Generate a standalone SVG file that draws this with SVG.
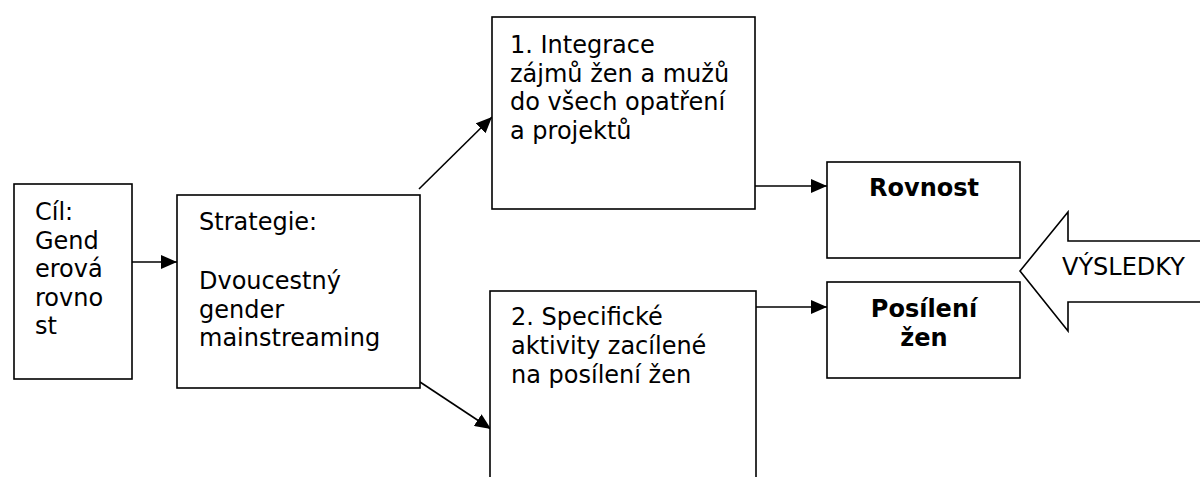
<svg xmlns="http://www.w3.org/2000/svg" width="1200" height="477" viewBox="0 0 1200 477">
<style>
.box{fill:#fff;stroke:#000;stroke-width:1.6}
.t{font-family:"DejaVu Sans",Verdana,sans-serif;font-size:24px;fill:#000}
.b{font-weight:bold;text-anchor:middle}
.c{stroke:#000;stroke-width:1.6;fill:none;marker-end:url(#ah)}
</style>
<defs>
<marker id="ah" markerWidth="16" markerHeight="14" refX="16" refY="7" orient="auto" markerUnits="userSpaceOnUse">
<path d="M0,0 L16,7 L0,14 Z" fill="#000"/>
</marker>
</defs>
<g id="connectors">
<line class="c" x1="132" y1="262" x2="177" y2="262"/>
<line class="c" x1="419" y1="189" x2="492" y2="117"/>
<line class="c" x1="420" y1="382" x2="491" y2="429"/>
<line class="c" x1="755" y1="186" x2="827" y2="186"/>
<line class="c" x1="756" y1="307" x2="827" y2="307"/>
</g>
<g id="cil">
<rect class="box" x="14" y="184" width="118" height="195"/>
<text class="t" x="35" y="220">Cíl:</text>
<text class="t" x="35" y="248.5">Gend</text>
<text class="t" x="35" y="277">erová</text>
<text class="t" x="35" y="305.5">rovno</text>
<text class="t" x="35" y="334">st</text>
</g>
<g id="strategie">
<rect class="box" x="177" y="195" width="243" height="193"/>
<text class="t" x="199" y="230">Strategie:</text>
<text class="t" x="199" y="289">Dvoucestný</text>
<text class="t" x="199" y="317.5">gender</text>
<text class="t" x="199" y="346">mainstreaming</text>
</g>
<g id="integrace">
<rect class="box" x="492" y="17" width="263" height="192"/>
<text class="t" x="510" y="53">1. Integrace</text>
<text class="t" x="510" y="81.5">zájmů žen a mužů</text>
<text class="t" x="510" y="110">do všech opatření</text>
<text class="t" x="510" y="138.5">a projektů</text>
</g>
<g id="specificke">
<rect class="box" x="490" y="291" width="266" height="200"/>
<text class="t" x="511" y="325">2. Specifické</text>
<text class="t" x="511" y="354">aktivity zacílené</text>
<text class="t" x="511" y="383">na posílení žen</text>
</g>
<g id="rovnost">
<rect class="box" x="827" y="162" width="193" height="96"/>
<text class="t b" x="924" y="196">Rovnost</text>
</g>
<g id="posileni">
<rect class="box" x="827" y="282" width="193" height="96"/>
<text class="t b" x="924" y="317">Posílení</text>
<text class="t b" x="924" y="346">žen</text>
</g>
<g id="vysledky">
<path class="box" d="M1202,241 L1068,241 L1068,212 L1020,271 L1068,331 L1068,302 L1202,302"/>
<text class="t" x="1062" y="275">VÝSLEDKY</text>
</g>
</svg>
